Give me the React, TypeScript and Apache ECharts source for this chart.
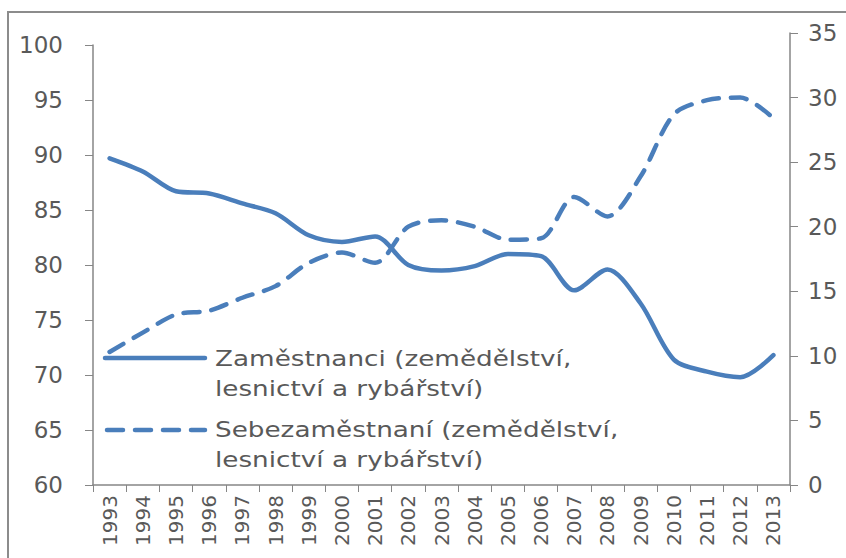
import React, { useEffect, useRef } from "react";
import * as echarts from "echarts";

const years = ["1993","1994","1995","1996","1997","1998","1999","2000","2001","2002","2003","2004","2005","2006","2007","2008","2009","2010","2011","2012","2013"];
const employees = [89.7, 88.5, 86.7, 86.5, 85.6, 84.7, 82.7, 82.1, 82.6, 80.0, 79.5, 79.9, 81.0, 80.8, 77.7, 79.6, 76.5, 71.4, 70.3, 69.8, 71.8];
const selfEmployed = [10.3, 11.8, 13.2, 13.5, 14.5, 15.4, 17.2, 18.0, 17.2, 20.0, 20.5, 20.0, 19.0, 19.1, 22.3, 20.8, 23.9, 28.7, 29.8, 30.0, 28.4];
const seriesNames = ["Zaměstnanci (zemědělství,\nlesnictví a rybářství)", "Sebezaměstnaní (zemědělství,\nlesnictví a rybářství)"];
const legendLines = [
  ["Zaměstnanci (zemědělství,", "lesnictví a rybářství)"],
  ["Sebezaměstnaní (zemědělství,", "lesnictví a rybářství)"],
];

const BLUE = "#4a7ebb";
const GRAY_AXIS = "#868686";
const TEXT = "#595959";
const FONT = "DejaVu Sans";

export default function App() {
  const ref = useRef<HTMLDivElement>(null);
  useEffect(() => {
    document.body.style.margin = "0";
    const chart = echarts.init(ref.current!, null, { renderer: "svg" });
    const axisLine = { show: true, lineStyle: { color: GRAY_AXIS, width: 1.5 } };
    const legendText = (lines: string[], y: number) =>
      lines.map((t, i) => ({
        type: "text",
        x: 215,
        y: y + i * 30,
        scaleX: 1.25,
        style: { text: t, fill: TEXT, font: `21px '${FONT}'`, textVerticalAlign: "middle" },
      }));
    chart.setOption({
      animation: false,
      grid: [
        { left: 93, right: 56, top: 45, bottom: 73 },
        { left: 93, right: 56, top: 33, bottom: 73 },
      ],
      xAxis: [
        {
          type: "category",
          gridIndex: 0,
          data: years,
          boundaryGap: true,
          axisLine,
          axisTick: { show: true, length: 7, lineStyle: { color: GRAY_AXIS }, alignWithLabel: false },
          axisLabel: { rotate: 90, interval: 0, fontFamily: FONT, fontSize: 20, color: TEXT, margin: 10 },
          splitLine: { show: false },
        },
        {
          type: "category",
          gridIndex: 1,
          data: years,
          boundaryGap: true,
          show: false,
        },
      ],
      yAxis: [
        {
          type: "value",
          gridIndex: 0,
          min: 60,
          max: 100,
          interval: 5,
          position: "left",
          axisLine,
          axisTick: { show: true, length: 8, lineStyle: { color: GRAY_AXIS } },
          axisLabel: { fontFamily: FONT, fontSize: 23, color: TEXT, margin: 30 },
          splitLine: { show: false },
        },
        {
          type: "value",
          gridIndex: 1,
          min: 0,
          max: 35,
          interval: 5,
          position: "right",
          axisLine,
          axisTick: { show: true, length: 8, lineStyle: { color: GRAY_AXIS } },
          axisLabel: { fontFamily: FONT, fontSize: 23, color: TEXT, margin: 18 },
          splitLine: { show: false },
        },
      ],
      series: [
        {
          name: seriesNames[0],
          type: "line",
          xAxisIndex: 0,
          yAxisIndex: 0,
          data: employees,
          smooth: 0.3,
          showSymbol: false,
          lineStyle: { color: BLUE, width: 4.5, cap: "round", join: "round" },
        },
        {
          name: seriesNames[1],
          type: "line",
          xAxisIndex: 1,
          yAxisIndex: 1,
          data: selfEmployed,
          smooth: 0.3,
          showSymbol: false,
          lineStyle: { color: BLUE, width: 4.5, type: [16, 12], cap: "round", join: "round" },
        },
      ],
      graphic: [
        {
          type: "rect",
          shape: { x: 8, y: 12, width: 900, height: 700 },
          style: { fill: "none", stroke: "#8c8c8c", lineWidth: 2 },
          silent: true,
        },
        {
          type: "line",
          shape: { x1: 105, y1: 358, x2: 205, y2: 358 },
          style: { stroke: BLUE, lineWidth: 4.5, lineCap: "round" },
        },
        {
          type: "line",
          shape: { x1: 107, y1: 430, x2: 205, y2: 430 },
          style: { stroke: BLUE, lineWidth: 4.5, lineCap: "round", lineDash: [16, 12] },
        },
        ...legendText(legendLines[0], 359),
        ...legendText(legendLines[1], 430),
      ],
    });
    return () => chart.dispose();
  }, []);
  return <div ref={ref} style={{ width: 846, height: 558 }} />;
}
